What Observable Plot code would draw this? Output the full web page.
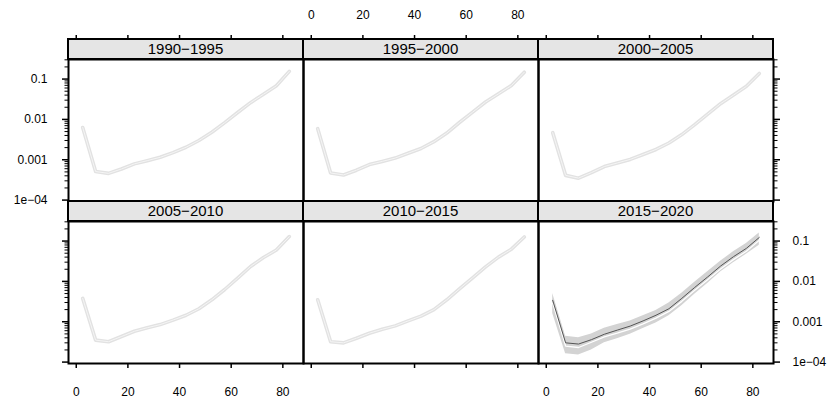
<!DOCTYPE html>
<html><head><meta charset="utf-8">
<script src="https://cdn.jsdelivr.net/npm/d3@7"></script>
<script src="https://cdn.jsdelivr.net/npm/@observablehq/plot@0.6"></script>
<style>
html,body{margin:0;padding:0;background:#fff;}
#chart{position:relative;width:832px;height:398px;overflow:hidden;font-family:"Liberation Sans",Arial,sans-serif;}
.strip{position:absolute;box-sizing:border-box;background:#e5e5e5;border:2px solid #000;font-size:15px;text-align:center;color:#000;}
</style></head><body><div id="chart"></div>
<script>
// ---- data ----
const ages = [2.5, 7.5, 12.5, 17.5, 22.5, 27.5, 32.5, 37.5, 42.5, 47.5, 52.5, 57.5, 62.5, 67.5, 72.5, 77.5, 82.5];
const periods = ["1990−1995", "1995−2000", "2000−2005", "2005−2010", "2010−2015", "2015−2020"];
const rates1990 = [0.0063, 0.00051, 0.00046, 0.00059, 0.00079, 0.00095, 0.00115, 0.0015, 0.00204, 0.0030, 0.0048, 0.0083, 0.0148, 0.026, 0.042, 0.068, 0.155];
const rates1995 = [0.0059, 0.00047, 0.00042, 0.00055, 0.00076, 0.00091, 0.0011, 0.00145, 0.0019, 0.0028, 0.0046, 0.0085, 0.0151, 0.027, 0.043, 0.069, 0.148];
const rates2000 = [0.0047, 0.00041, 0.00035, 0.00048, 0.00068, 0.00083, 0.00102, 0.00135, 0.0018, 0.0026, 0.0042, 0.0074, 0.0135, 0.0245, 0.040, 0.066, 0.138];
const rates2005 = [0.0038, 0.00035, 0.00032, 0.00043, 0.00058, 0.00071, 0.00085, 0.0011, 0.00145, 0.0021, 0.0035, 0.0063, 0.012, 0.0234, 0.039, 0.060, 0.129];
const rates2010 = [0.0035, 0.00032, 0.0003, 0.00039, 0.00052, 0.00065, 0.00079, 0.00105, 0.00138, 0.0020, 0.0035, 0.0066, 0.0123, 0.0229, 0.040, 0.063, 0.126];
const rates2015 = [0.0034, 0.0003, 0.00028, 0.00036, 0.00049, 0.00062, 0.00078, 0.00105, 0.00145, 0.0021, 0.0038, 0.0071, 0.0129, 0.024, 0.041, 0.066, 0.123];
const rates2015b = [0.0029, 0.00025, 0.00023, 0.00031, 0.00042, 0.00052, 0.00066, 0.00089, 0.00123, 0.0018, 0.0032, 0.006, 0.011, 0.0204, 0.0347, 0.056, 0.105];
const upper2015 = [0.005, 0.00044, 0.0004, 0.0005, 0.00069, 0.00085, 0.00105, 0.0014, 0.0019, 0.0029, 0.0051, 0.0095, 0.0174, 0.0316, 0.054, 0.087, 0.158];
const lower2015 = [0.0016, 0.00016, 0.00015, 0.0002, 0.0003, 0.00038, 0.00049, 0.00068, 0.00093, 0.0014, 0.0025, 0.0048, 0.0089, 0.017, 0.029, 0.047, 0.079];
const xTicks = [0, 20, 40, 60, 80];
const yTicks = [0.0001, 0.001, 0.01, 0.1];
const yTickLabels = ["1e−04", "0.001", "0.01", "0.1"];
const series = [rates1990, rates1995, rates2000, rates2005, rates2010, rates2015];

// ---- layout ----
const ML = 70, MR = 70, MT = 60, MB = 40, PW = 235, PH = 142;
const colLeft = [68, 303, 538], panelTop = [59, 221];
const xDomain = [-3, 88];
const yDomain = [Math.pow(10, -4.035), Math.pow(10, -0.515)];
const yMinor = [];
for (const d of [1e-5, 1e-4, 1e-3, 1e-2, 1e-1]) for (let k = 2; k <= 9; k++) {
  const v = k * d; if (v > yDomain[0] && v < yDomain[1]) yMinor.push(v);
}
const blank = () => "";
const yFmt = v => yTickLabels[yTicks.indexOf(v)];

const chart = document.getElementById("chart");

periods.forEach((p, i) => {
  const c = i % 3, r = Math.floor(i / 3);
  const data = ages.map((a, j) => ({age: a, rate: series[i][j]}));
  const marks = [];
  if (i === 5) {
    const band = ages.map((a, j) => ({age: a, lo: lower2015[j], hi: upper2015[j], b: rates2015b[j]}));
    marks.push(Plot.areaY(band, {x: "age", y1: "lo", y2: "hi", fill: "#d3d3d3"}));
    marks.push(Plot.line(band, {x: "age", y: "b", stroke: "#ffffff", strokeWidth: 1.3}));
    marks.push(Plot.line(data, {x: "age", y: "rate", stroke: "#555555", strokeWidth: 1}));
  } else {
    marks.push(Plot.line(data, {x: "age", y: "rate", stroke: "#e2e2e2", strokeWidth: 3.6}));
    marks.push(Plot.line(data, {x: "age", y: "rate", stroke: "#f5f5f5", strokeWidth: 1}));
  }
  if (r === 0) marks.push(Plot.axisX(xTicks, {anchor: "top", dy: -20, tickSize: 5, tickPadding: 16, strokeWidth: 1.5, tickFormat: c === 1 ? d => String(d) : blank, label: null}));
  if (r === 1) marks.push(Plot.axisX(xTicks, {anchor: "bottom", tickSize: 5, tickPadding: 19, strokeWidth: 1.5, tickFormat: c !== 1 ? d => String(d) : blank, label: null}));
  if (c === 0) {
    marks.push(Plot.axisY(yTicks, {anchor: "left", tickSize: 6, tickPadding: 15, strokeWidth: 1.5, tickFormat: r === 0 ? yFmt : blank, label: null}));
    marks.push(Plot.axisY(yMinor, {anchor: "left", tickSize: 3.5, strokeWidth: 1, tickFormat: blank, label: null}));
  }
  if (c === 2) {
    marks.push(Plot.axisY(yTicks, {anchor: "right", tickSize: 6, tickPadding: 13, strokeWidth: 1.5, tickFormat: r === 1 ? yFmt : blank, label: null}));
    marks.push(Plot.axisY(yMinor, {anchor: "right", tickSize: 3.5, strokeWidth: 1, tickFormat: blank, label: null}));
  }
  marks.push(Plot.frame({stroke: "#000", strokeWidth: 2}));
  const svg = Plot.plot({
    width: PW + ML + MR, height: PH + MT + MB,
    marginLeft: ML, marginRight: MR, marginTop: MT, marginBottom: MB,
    x: {domain: xDomain, axis: null},
    y: {type: "log", domain: yDomain, axis: null},
    style: {background: "transparent", overflow: "visible", fontFamily: "Liberation Sans, Arial, sans-serif", fontSize: "12px", color: "#000"},
    marks
  });
  svg.style.position = "absolute";
  svg.style.left = (colLeft[c] - ML) + "px";
  svg.style.top = (panelTop[r] - MT) + "px";
  chart.appendChild(svg);

  const s = document.createElement("div");
  s.className = "strip";
  s.textContent = p;
  s.style.left = (colLeft[c] - 1) + "px";
  s.style.top = (panelTop[r] - 21) + "px";
  s.style.width = (PW + 2) + "px";
  s.style.height = "22px";
  s.style.lineHeight = "18px";
  chart.appendChild(s);
});
</script></body></html>
